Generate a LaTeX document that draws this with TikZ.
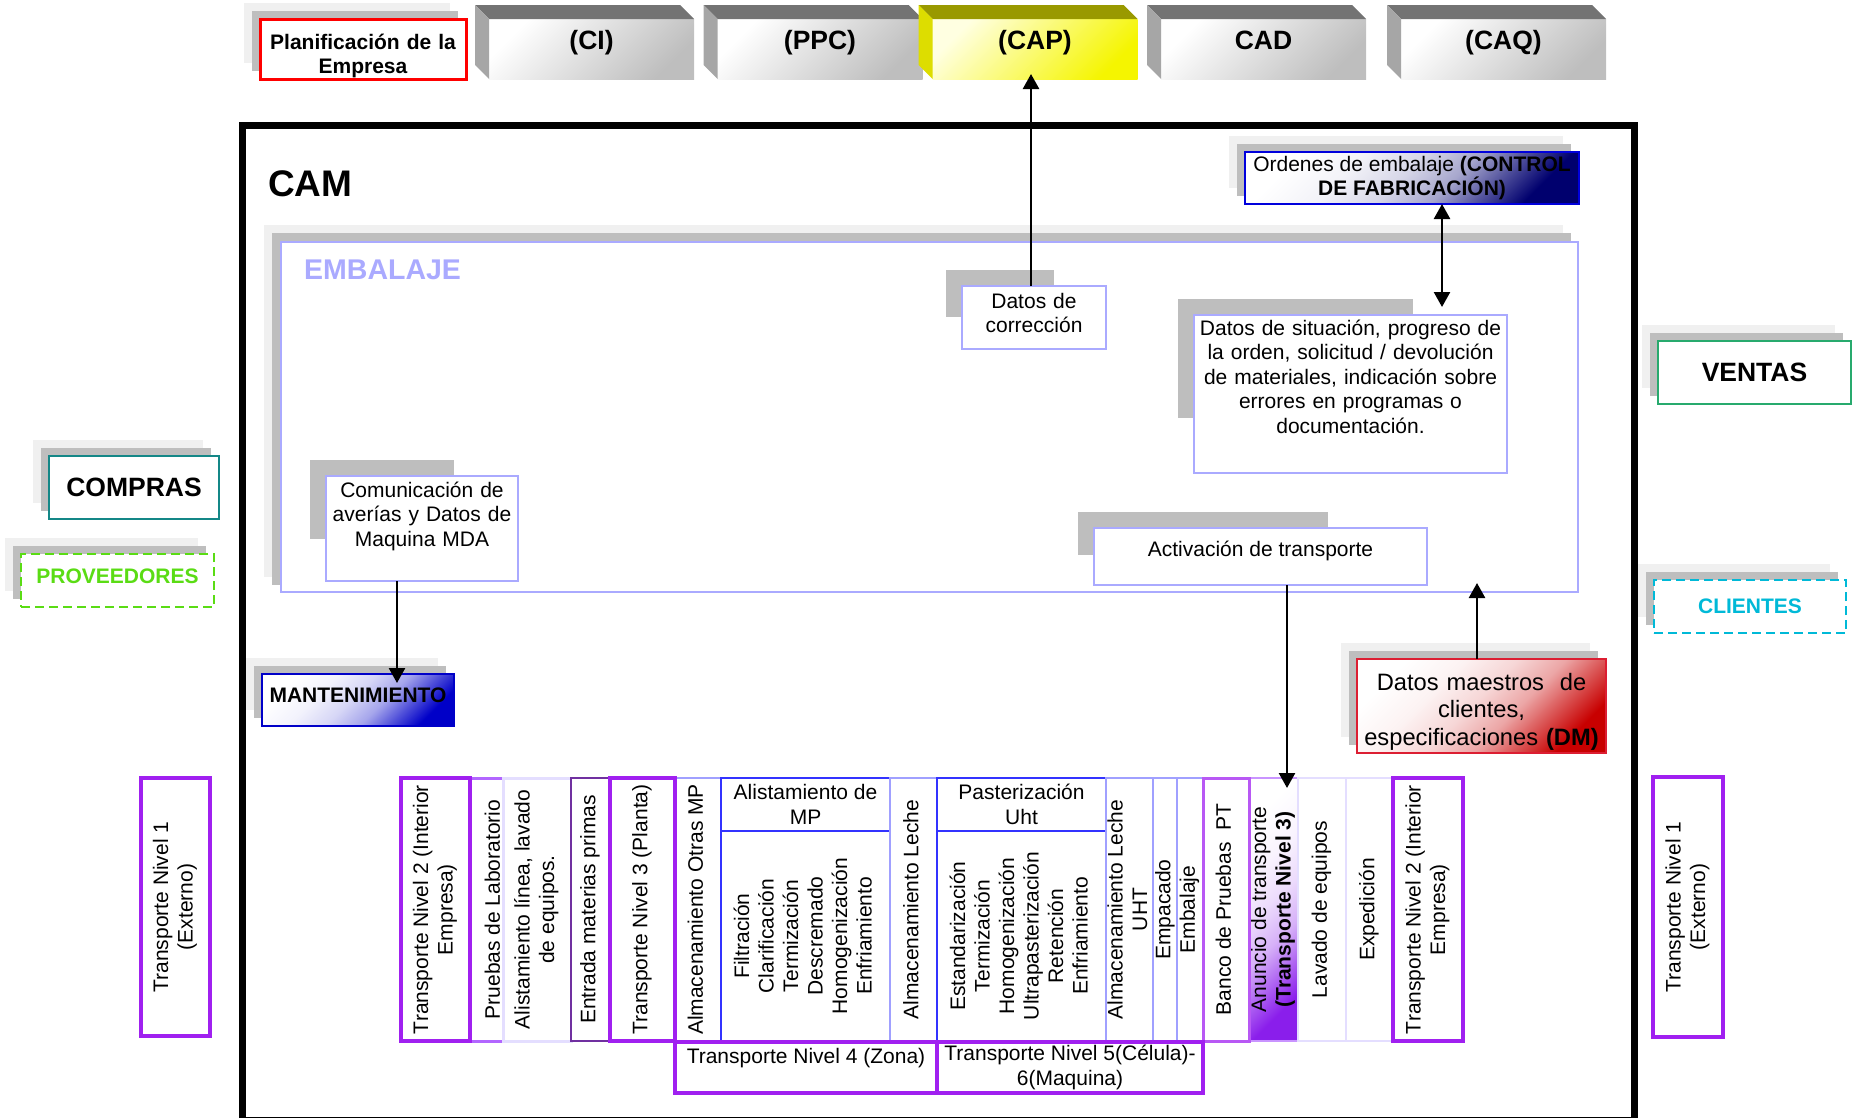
\documentclass[tikz,border=0pt]{standalone}
\usepackage{fontspec}
\setmainfont{Liberation Sans}
\usepackage{graphicx}
\usetikzlibrary{arrows.meta,calc}
\pgfdeclarelayer{back}
\pgfdeclarelayer{panel}
\pgfdeclarelayer{shade}
\pgfsetlayers{back,panel,shade,main}
\definecolor{tpurple}{RGB}{160,32,240}
\definecolor{lav}{RGB}{170,170,255}
\definecolor{shlight}{RGB}{240,240,240}
\definecolor{shdark}{RGB}{190,190,190}
\definecolor{bevtop}{RGB}{115,115,115}
\definecolor{bevside}{RGB}{166,166,166}
\definecolor{facegray}{RGB}{190,190,190}
\definecolor{captop}{RGB}{153,153,0}
\definecolor{capside}{RGB}{221,221,0}
\definecolor{capface}{RGB}{245,245,0}
\definecolor{cappale}{RGB}{255,255,225}
\definecolor{ventgreen}{RGB}{40,170,110}
\definecolor{compteal}{RGB}{20,135,135}
\definecolor{provgreen}{RGB}{90,220,20}
\definecolor{clicyan}{RGB}{0,185,215}
\definecolor{mantblue}{RGB}{0,0,200}
\definecolor{ordblue}{RGB}{0,0,220}
\definecolor{ordnavy}{RGB}{0,0,110}
\definecolor{dmred}{RGB}{200,0,0}
\definecolor{dmedge}{RGB}{220,30,50}
\definecolor{colblue}{RGB}{51,51,255}
\definecolor{colline}{RGB}{160,160,255}
\definecolor{palelav}{RGB}{228,222,255}
\definecolor{midpurple}{RGB}{178,102,255}
\definecolor{darkpurple}{RGB}{112,48,160}
\definecolor{anupurple}{RGB}{138,30,235}
\newcommand\diagshading[2]{\pgfdeclareverticalshading{#1}{100bp}{color(0bp)=(#2); color(25bp)=(#2);
  color(33bp)=(#2!70); color(42bp)=(#2!35); color(52bp)=(#2!16); color(63bp)=(#2!5); color(75bp)=(white); color(100bp)=(white)}}
\diagshading{ordshade}{ordnavy}
\diagshading{mantshade}{mantblue}
\diagshading{dmshade}{dmred}
\diagshading{anushade}{anupurple}
\newcommand\fnorm{\fontsize{21}{24.5}\selectfont}
\newcommand\fbig{\fontsize{26.5}{30}\selectfont\bfseries}
\newcommand\fcam{\fontsize{37}{40}\selectfont\bfseries}
\newcommand\femb{\fontsize{28.5}{32}\selectfont\bfseries}
\newcommand\fdm{\fontsize{23.7}{27.5}\selectfont}
\newcommand\vtext[1]{\rotatebox{90}{\begin{tabular}{@{}c@{}}#1\end{tabular}}}
\newcommand\dropshade[1]{%
  \begin{pgfonlayer}{back}
    \fill[shlight] ([shift={(-16,-16)}]#1.north west) rectangle ([shift={(-16,-16)}]#1.south east);
    \fill[shdark] ([shift={(-8,-8)}]#1.north west) rectangle ([shift={(-8,-8)}]#1.south east);
  \end{pgfonlayer}}
\newcommand\partshade[1]{%
  \begin{pgfonlayer}{shade}
    \fill[shdark] ([shift={(-16,-16)}]#1.north west) rectangle ($(#1.north west)!.75!(#1.south east)+(-16,-16)$);
  \end{pgfonlayer}}
\begin{document}
\begin{tikzpicture}[x=1pt,y=-1pt,
  >={Triangle[length=15pt,width=16pt]},
  arr/.style={line width=2.5pt},
  face/.style={minimum width=205pt, minimum height=60pt, inner sep=0pt, outer sep=0pt, font=\fbig,
    text height=20pt, text depth=20pt, top color=white, bottom color=facegray, shading angle=45},
  sbox/.style={draw, line width=2.5pt, fill=white, inner sep=0pt, outer sep=0pt},
  grad/.style={shade, shading=#1, shading angle=45},
  inbox/.style={draw=lav, line width=2pt, fill=white, inner sep=4pt, outer sep=0pt, font=\fnorm, align=center},
  col/.style={draw=colline, line width=2pt, fill=white, inner sep=0pt, outer sep=0pt,
    minimum height=263pt, minimum width=#1, font=\fnorm},
  colhead/.style={draw=colblue, line width=2pt, fill=white, inner sep=0pt, outer sep=0pt,
    minimum width=169pt, minimum height=53pt, font=\fnorm, align=center},
  colbody/.style={colhead, minimum height=210pt},
  tnbox/.style={draw=tpurple, line width=4pt, fill=white, inner sep=0pt, outer sep=0pt, font=\fnorm}]
\useasboundingbox (0,0) rectangle (1856,1117);
\clip (0,0) rectangle (1856,1117);

\node[sbox, draw=red, line width=3pt, text width=206pt, text height=30pt, text depth=30pt, font=\fnorm\bfseries, align=center] (plan) at (363,49) {Planificación de la\\Empresa};
\dropshade{plan}
\foreach \nm/\cx/\lbl in {ci/591.5/{(CI)}, ppc/820/{(PPC)}, cad/1263.5/CAD, caq/1503.5/{(CAQ)}}{
  \node[face] (\nm) at (\cx,49) {\lbl};
  \fill[bevtop] (\nm.north west) -- ++(-14,-14) -- ([shift={(-14,-14)}]\nm.north east) -- (\nm.north east) -- cycle;
  \fill[bevside] (\nm.north west) -- ++(-14,-14) -- ([shift={(-14,-14)}]\nm.south west) -- (\nm.south west) -- cycle;
}
\node[face, top color=cappale, bottom color=capface, shading angle=45] (cap) at (1035,49) {(CAP)};
\fill[captop] (cap.north west) -- ++(-14,-14) -- ([shift={(-14,-14)}]cap.north east) -- (cap.north east) -- cycle;
\fill[capside] (cap.north west) -- ++(-14,-14) -- ([shift={(-14,-14)}]cap.south west) -- (cap.south west) -- cycle;

\node[draw, line width=7pt, minimum width=1392pt, minimum height=995pt, inner sep=0pt] (cam) at (938,622.5) {};
\node[anchor=west, inner sep=0pt, font=\fcam] (camlbl) at (268,184) {CAM};

\node[sbox, draw=ordblue, grad=ordshade, minimum width=334pt, minimum height=52pt, font=\fnorm, align=center] (ord) at (1412,178) {Ordenes de embalaje \textbf{(CONTROL}\\\textbf{DE FABRICACIÓN)}};
\dropshade{ord}

\begin{pgfonlayer}{panel}
  \node[draw=lav, line width=2pt, fill=white, minimum width=1297pt, minimum height=350pt, inner sep=0pt] (panel) at (929.5,417) {};
\end{pgfonlayer}
\dropshade{panel}
\node[anchor=west, inner sep=0pt, font=\femb, text=lav] (panellbl) at (304,269.5) {EMBALAJE};

\node[inbox, text width=136pt, text height=18pt, text depth=37pt] (cor) at (1034,317.5) {Datos de\\corrección};
\partshade{cor}
\node[inbox, text width=305pt, text height=16pt, text depth=134pt] (sit) at (1350.5,394) {Datos de situación, progreso de\\la orden, solicitud / devolución\\de materiales, indicación sobre\\errores en programas o\\documentación.};
\partshade{sit}
\node[inbox, text width=184pt, text height=17pt, text depth=80pt] (com) at (422,528.5) {Comunicación de\\averías y Datos de\\Maquina MDA};
\partshade{com}
\node[inbox, minimum width=333pt, minimum height=57pt, text height=15pt, text depth=15pt] (act) at (1260.5,556.5) {Activación de transporte};
\partshade{act}

\node[sbox, draw=ventgreen, minimum width=193pt, minimum height=63pt, font=\fbig] (ven) at (1754.5,372.5) {VENTAS};
\dropshade{ven}
\node[sbox, draw=compteal, minimum width=170pt, minimum height=63pt, font=\fbig] (comp) at (134,487.5) {COMPRAS};
\dropshade{comp}
\node[sbox, draw=provgreen, dash pattern=on 9pt off 5pt, text=provgreen, minimum width=193pt, minimum height=53pt, font=\fnorm\bfseries, text height=15pt, text depth=10pt] (prov) at (117.5,580.5) {PROVEEDORES};
\dropshade{prov}
\node[sbox, draw=clicyan, dash pattern=on 9pt off 5pt, text=clicyan, minimum width=192pt, minimum height=53pt, font=\fnorm\bfseries] (cli) at (1750,606.5) {CLIENTES};
\dropshade{cli}
\node[sbox, draw=mantblue, grad=mantshade, minimum width=192pt, minimum height=52pt, font=\fnorm\bfseries, text height=15pt, text depth=10pt] (mant) at (358,700) {MANTENIMIENTO};
\dropshade{mant}
\node[sbox, draw=dmedge, grad=dmshade, inner sep=4pt, text width=241pt, align=center, text height=27pt, text depth=59pt, font=\fdm] (dm) at (1481.5,706) {Datos maestros\ \ de\\clientes,\\especificaciones \textbf{(DM)}};
\dropshade{dm}

\node[tnbox, minimum width=69pt, minimum height=258pt] (tn1l) at (175.5,907) {\vtext{Transporte Nivel 1\\(Externo)}};
\node[tnbox, minimum width=70pt, minimum height=260pt] (tn1r) at (1688,907) {\vtext{Transporte Nivel 1\\(Externo)}};

\node[col=50pt, draw=midpurple, line width=3pt] (pru) at (495,909.5) {\vtext{Pruebas de Laboratorio}};
\node[col=68pt, draw=palelav, line width=3pt] (ali) at (537,909.5) {\vtext{Alistamiento línea, lavado\\de equipos.}};
\node[col=39pt, draw=darkpurple, line width=1.5pt] (ent) at (590.5,909.5) {\vtext{Entrada materias primas}};
\node[col=46pt] (aom) at (698,909.5) {\vtext{Almacenamiento Otras MP}};
\node[colhead] (amph) at (805.5,804.5) {Alistamiento de\\MP};
\node[colbody] (ampb) at (805.5,936) {\vtext{Filtración\\Clarificación\\Termización\\Descremado\\Homogenización\\Enfriamiento}};
\node[col=47pt] (ale) at (913.5,909.5) {\vtext{Almacenamiento Leche}};
\node[colhead] (pash) at (1021.5,804.5) {Pasterización\\Uht};
\node[colbody] (pasb) at (1021.5,936) {\vtext{Estandarización\\Termización\\Homogenización\\Ultrapasterización\\Retención\\Enfriamiento}};
\node[col=48pt] (alu) at (1130,909.5) {\vtext{Almacenamiento Leche\\UHT}};
\node[col=23pt] (emp) at (1165.5,909.5) {\vtext{Empacado}};
\node[col=26pt] (embl) at (1190,909.5) {\vtext{Embalaje}};
\node[col=49pt, draw=midpurple!70, grad=anushade] (anu) at (1273.5,909.5) {\vtext{Anuncio de transporte\\\textbf{(Transporte Nivel 3)}}};
\node[col=48pt, draw=palelav] (lav) at (1322,909.5) {\vtext{Lavado de equipos}};
\node[col=47pt, draw=palelav] (exped) at (1369.5,909.5) {\vtext{Expedición}};
\node[col=46pt, draw=tpurple!75, line width=3pt] (ban) at (1226,909.5) {\vtext{Banco de Pruebas\ \ PT}};

\node[tnbox, minimum width=69pt, minimum height=263pt] (tn2l) at (435.5,909.5) {\vtext{Transporte Nivel 2 (Interior\\Empresa)}};
\node[tnbox, minimum width=65pt, minimum height=263pt] (tn3) at (642.5,909.5) {\vtext{Transporte Nivel 3 (Planta)}};
\node[tnbox, minimum width=70pt, minimum height=263pt] (tn2r) at (1428,909.5) {\vtext{Transporte Nivel 2 (Interior\\Empresa)}};
\node[tnbox, minimum width=262pt, minimum height=51pt, text height=15pt, text depth=24pt] (tn4) at (806,1067.5) {Transporte Nivel 4 (Zona)};
\node[tnbox, minimum width=266pt, minimum height=51pt, align=center] (tn5) at (1070,1067.5) {Transporte Nivel 5(Célula)-\\6(Maquina)};

\coordinate (capx) at (1031,0);
\coordinate (ordx) at (1442,0);
\coordinate (mantx) at (397,0);
\coordinate (dmx) at (1477,0);
\coordinate (anux) at (1287,0);
\draw[arr,->,shorten >=-5pt] (cor.north -| capx) -- (cap.south -| capx);
\draw[arr,<->,shorten >=8pt] (ord.south -| ordx) -- (sit.north -| ordx);
\draw[arr,->,shorten >=-9pt] (com.south -| mantx) -- (mant.north -| mantx);
\draw[arr,->,shorten >=-10pt] (dm.north -| dmx) -- (panel.south -| dmx);
\draw[arr,->,shorten >=-10pt] (act.south -| anux) -- (anu.north -| anux);
\end{tikzpicture}
\end{document}
